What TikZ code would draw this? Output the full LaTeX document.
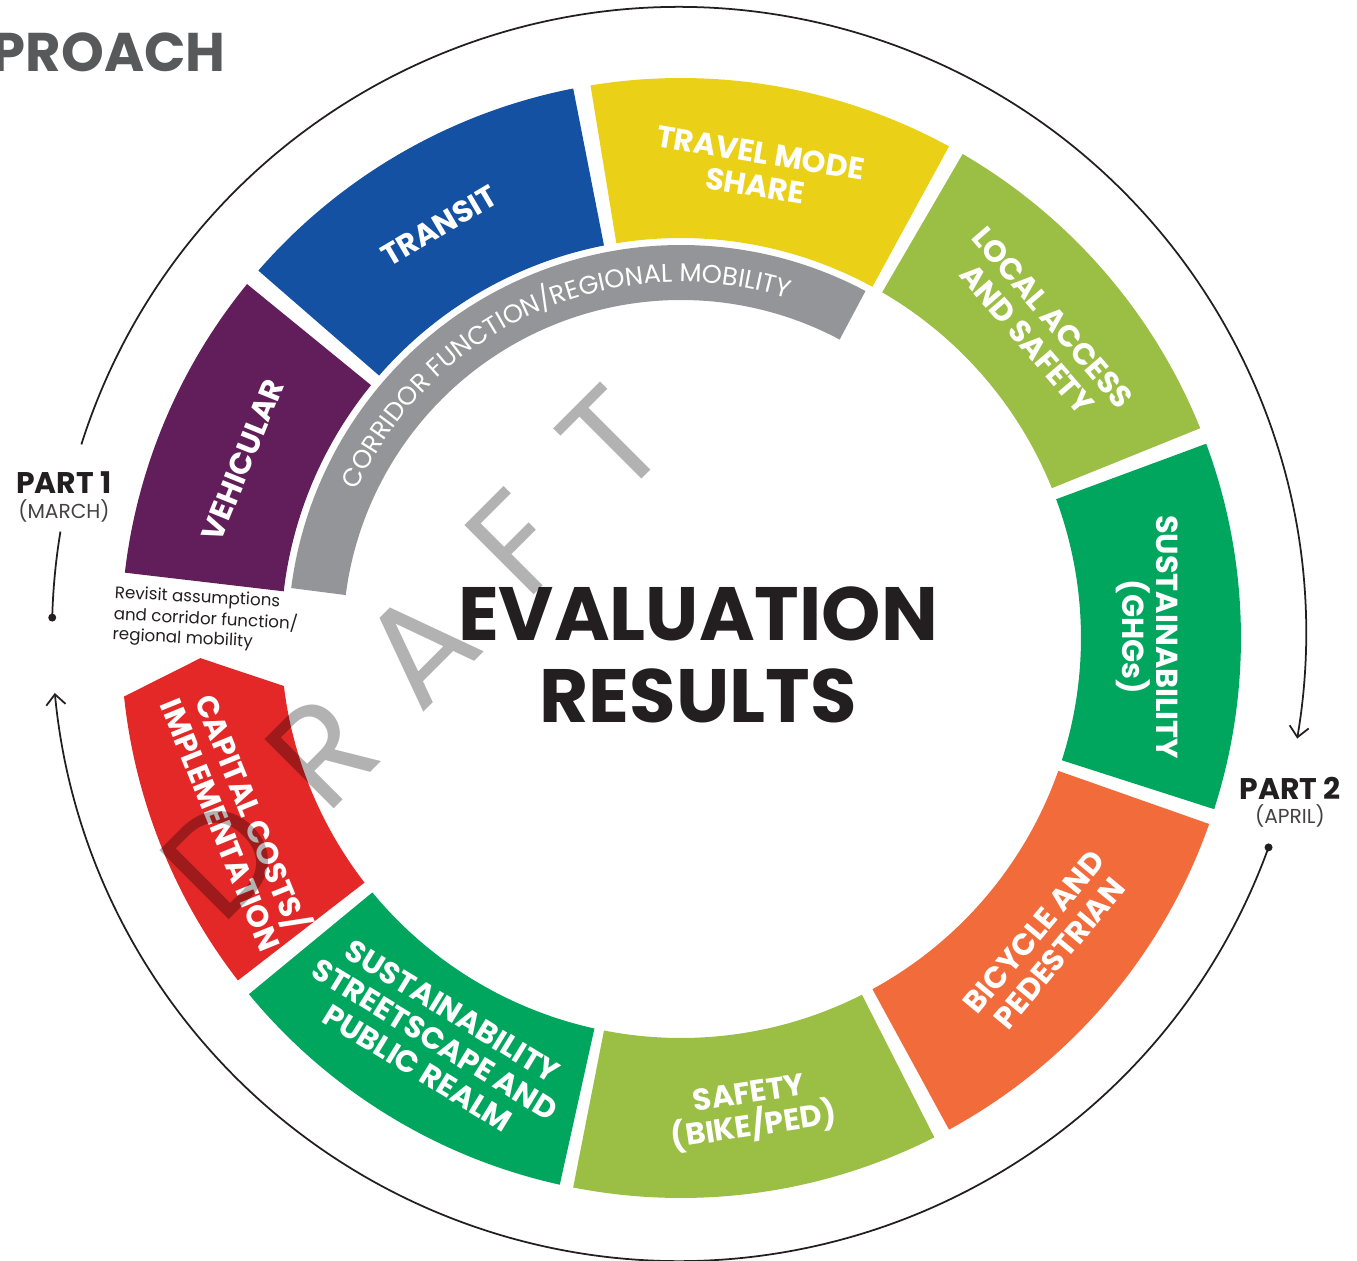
\documentclass[tikz,border=0pt]{standalone}
\usepackage{fontspec}
\setmainfont{Poppins}
\usetikzlibrary{arrows.meta,positioning,decorations.text}

\definecolor{transitblue}{HTML}{1551A3}
\definecolor{modeyellow}{HTML}{EBD018}
\definecolor{limegreen}{HTML}{9BBE45}
\definecolor{sustgreen}{HTML}{00A65E}
\definecolor{bikeorange}{HTML}{F26B3A}
\definecolor{costred}{HTML}{E42828}
\definecolor{carpurple}{HTML}{621E5A}
\definecolor{corridorgray}{HTML}{939598}
\definecolor{inkdark}{HTML}{231F20}
\definecolor{titlegray}{HTML}{58595B}

\begin{document}
\begin{tikzpicture}[
            x = 0.02cm, y = 0.02cm, % one unit is one pixel of the layout
            seglabel/.style = {text = white, font = \fontsize{17.3}{19}\selectfont\bfseries, align = center, inner sep = 0pt},
            partlabel/.style = {text = inkdark, font = \fontsize{17}{19}\selectfont\bfseries, inner sep = 0pt},
            monthlabel/.style = {text = inkdark!85, font = \fontsize{11.5}{13}\selectfont, inner sep = 0pt},
            notelabel/.style = {text = inkdark, font = \fontsize{9.5}{11.3}\selectfont, align = left, inner sep = 0pt},
            wmletter/.style = {text = black, text opacity = 0.3, font = \fontsize{80}{80}\selectfont, rotate = 45, inner sep = 0pt},
            flowline/.style = {line width = 1pt, draw = inkdark},
            flowarrow/.style = {flowline, -{Straight Barb[length=6pt, width=11pt]}}
        ]

	\useasboundingbox (-681,-623) rectangle (676,638);

	% ring segments: start angle / end angle / colour
	\foreach \from/\to/\col in {-17.8/20.3/sustgreen, 22/59.8/limegreen, 61.4/99.3/modeyellow,
	        101.1/139/transitblue, 140.8/173.3/carpurple, 219.5/257.5/sustgreen,
	        258.9/296.9/limegreen, 298.6/340.6/bikeorange}
		\fill[\col] (\from:400) arc[start angle=\from, end angle=\to, radius=400]
			-- (\to:560) arc[start angle=\to, end angle=\from, radius=560] -- cycle;

	% pointed segment
	\fill[costred] (186.9:400) -- (182.4:481) -- (186:560)
		arc[start angle=186, end angle=217.7, radius=560]
		-- (217.7:400) arc[start angle=217.7, end angle=186.9, radius=400] -- cycle;

	% inner band
	\fill[corridorgray] (62:338) arc[start angle=62, end angle=172.7, radius=338]
		-- (172.7:393) arc[start angle=172.7, end angle=62, radius=393] -- cycle;
	\path[decorate, decoration={text along path, text align=center, text color=white,
		text={|\fontsize{14.6}{16}\selectfont|CORRIDOR FUNCTION/REGIONAL MOBILITY}}]
		(164:356) arc[start angle=164, end angle=64, radius=356];

	\node[seglabel, rotate=-9.3] (mode) at (80.7:475) {TRAVEL MODE\\SHARE};
	\node[seglabel, rotate=30.4] (transit) at (120.4:478) {TRANSIT};
	\node[seglabel, rotate=67.9] (vehicular) at (157.9:473) {VEHICULAR};
	\node[seglabel, rotate=-49.2] (local) at (40.8:474) {LOCAL ACCESS\\AND SAFETY};
	\node[seglabel, rotate=-90] (ghg) at (0.1:466) {SUSTAINABILITY\\(GHGs)};
	\node[seglabel, rotate=50.2] (bike) at (-39.8:476) {BICYCLE AND\\PEDESTRIAN};
	\node[seglabel, rotate=8.5] (safety) at (-81.5:479) {SAFETY\\(BIKE/PED)};
	\node[seglabel, rotate=-31.5] (streetscape) at (-121.5:471) {SUSTAINABILITY\\STREETSCAPE AND\\PUBLIC REALM};
	\node[seglabel, rotate=-67.9] (capital) at (-157.9:477) {CAPITAL COSTS/\\IMPLEMENTATION};

	\node[text=inkdark, font=\fontsize{43}{47}\selectfont\bfseries, align=center] (results) at (17,-17) {EVALUATION\\RESULTS};

	\node[notelabel, anchor=north west, rotate=-3] (revisit) at (-566,53) {Revisit assumptions\\and corridor function/\\regional mobility};

	\node[text=titlegray, font=\fontsize{31}{31}\selectfont\bfseries, anchor=base east, inner sep=0pt] (title) at (-455,566) {PROACH};

	\node[partlabel] (part1) at (-617,155) {PART 1};
	\node[monthlabel, below=3pt of part1] (march) {(MARCH)};
	\node[partlabel] (part2) at (609,-150) {PART 2};
	\node[monthlabel, below=3pt of part2] (april) {(APRIL)};

	% the two halves of the review cycle
	\begin{scope}[shift={(-2,4)}]
		\coordinate (p1dot) at (178.5:627);
		\coordinate (p1resume) at (162.4:627);
		\coordinate (p2dot) at (-19.9:627);
		\fill[inkdark] (p1dot) circle[radius=4];
		\fill[inkdark] (p2dot) circle[radius=4];
		\draw[flowline] (p1dot) arc[start angle=178.5, end angle=170.6, radius=627];
		\draw[flowarrow] (p1resume) arc[start angle=162.4, end angle=-9.6, radius=627];
		\draw[flowarrow] (p2dot) arc[start angle=-19.9, end angle=-174.6, radius=627];
	\end{scope}

	% watermark
	\foreach \ch/\px/\py in {D/222/858, R/322/752, A/420/648, F/517/543, T/612/440}
		\node[wmletter] (wm\ch) at (\px-681, 638-\py) {\ch};

\end{tikzpicture}
\end{document}
